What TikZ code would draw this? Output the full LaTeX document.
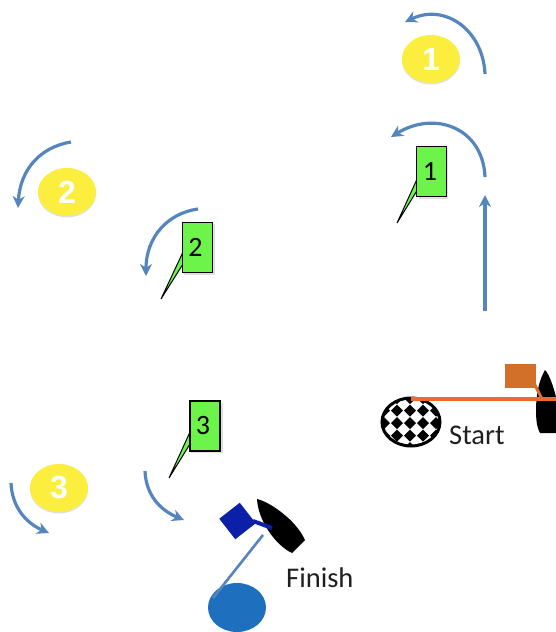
\documentclass[tikz,border=0pt]{standalone}
\usepackage{fontspec}
\setmainfont{Carlito}
\newfontfamily\numfont[Scale=1]{Liberation Sans}
\usetikzlibrary{arrows.meta,shapes.geometric}
\definecolor{arrowblue}{HTML}{5585BD}
\definecolor{markyellow}{HTML}{FBEE3E}
\definecolor{flaggreen}{HTML}{6CF44A}
\definecolor{startorange}{HTML}{D2702A}
\definecolor{startline}{HTML}{F0682E}
\definecolor{finishblue}{HTML}{1F6FBF}
\definecolor{flagblue}{HTML}{0A20A8}
\tikzset{
  course/.style={arrowblue,line width=3.2pt,-{Stealth[length=12pt,width=12pt]}},
  yellowmark/.style={ellipse,fill=markyellow,minimum width=58pt,minimum height=48pt,inner sep=0pt,text=white,font=\numfont\bfseries\fontsize{32}{32}\selectfont},
  greenflag/.style={rectangle,draw=black,line width=1.2pt,fill=flaggreen,minimum width=30pt,minimum height=50pt,inner sep=0pt,font=\fontsize{28}{28}\selectfont},
  tail/.style={fill=flaggreen,draw=black,line width=1pt},
  caption/.style={inner sep=0pt,anchor=base west,text=black!88,font=\fontsize{28.5}{29}\selectfont},
  shade/.style={fill=black!12,draw=none}
}
\begin{document}
\begin{tikzpicture}[x=1pt,y=-1pt]
\useasboundingbox (0,0) rectangle (556,632);
\clip (0,0) rectangle (556,632);
% soft shadows
\fill[shade] (431,60.5) ellipse [x radius=29pt,y radius=24pt];
\fill[shade] (67,193.5) ellipse [x radius=29pt,y radius=24pt];
\fill[shade] (59,489.5) ellipse [x radius=29pt,y radius=24pt];
% yellow marks
\node[yellowmark] (y1) at (431,59) {1};
\node[yellowmark] (y2) at (67,192) {2};
\node[yellowmark] (y3) at (59,488) {3};
% course arrows
\coordinate (a1s) at (485,74); \coordinate (a1e) at (405,22);
\draw[course] (a1s) .. controls (483,30) and (445,3) .. (a1e);
\coordinate (b1s) at (485,177); \coordinate (b1e) at (391,137);
\draw[course] (b1s) .. controls (483,128) and (435,110) .. (b1e);
\coordinate (up0) at (485,311); \coordinate (up1) at (485,195);
\draw[course] (up0) -- (up1);
\coordinate (a2s) at (71,142); \coordinate (a2e) at (18,208);
\draw[course] (a2s) .. controls (40,147) and (20,170) .. (a2e);
\coordinate (b2s) at (198,209); \coordinate (b2e) at (146,276);
\draw[course] (b2s) .. controls (168,213) and (146,237) .. (b2e);
\coordinate (b3s) at (145,471); \coordinate (b3e) at (184,520);
\draw[course] (b3s) .. controls (146,495) and (160,510) .. (b3e);
\coordinate (a3s) at (11,483); \coordinate (a3e) at (49,533);
\draw[course] (a3s) .. controls (12,507) and (26,523) .. (a3e);
% green flags
\coordinate (t1) at (397,223);
\draw[tail] (t1) -- (418,177) -- (418,189) -- cycle;
\fill[shade] (418.5,148) rectangle (447.5,198.5);
\node[greenflag] (g1) at (431.5,171.5) {\kern-3pt\raisebox{-2pt}{1}};
\coordinate (t2) at (161,299);
\draw[tail] (t2) -- (183,252) -- (183,264) -- cycle;
\fill[shade] (184,224) rectangle (215,274.5);
\node[greenflag] (g2) at (197.5,247.5) {\kern-4pt\raisebox{-2pt}{2}};
\coordinate (t3) at (169,478);
\draw[tail] (t3) -- (190,432) -- (190,444) -- cycle;
\fill[shade] (191,403) rectangle (222.5,452.5);
\node[greenflag] (g3) at (205,426) {\kern-4pt\raisebox{1pt}{3}};
% start
\begin{scope}
\clip (411,422) ellipse [x radius=29pt,y radius=24pt];
\foreach \r in {-2,...,2}{\foreach \c in {-3,...,3}{
  \fill[black] ({410+\c*13},{423+\r*12.5-6}) -- ++(6,6) -- ++(-6,6) -- ++(-6,-6) -- cycle;
}}
\end{scope}
\node[ellipse,draw=black,line width=3pt,minimum width=58pt,minimum height=48pt,inner sep=0pt] (chk) at (411,422) {};
\node[rectangle,fill=startorange,minimum width=31pt,minimum height=24pt,inner sep=0pt] (oflag) at (520.5,375.5) {};
\fill[black] (545,370) .. controls (539,380) and (536,395) .. (536,410) .. controls (536,420) and (537,428) .. (540,433) -- (556,433) -- (556,397) .. controls (553,385) and (549,374) .. (545,370) -- cycle;
\coordinate (oline) at (542,399);
\draw[startorange,line width=3pt] (535,385) -- (oline);
\coordinate (sline) at (556,399);
\draw[startline,line width=3.4pt] (chk.north |- sline) -- (sline);
\node[caption] (st) at (449,444) {Start};
% finish
\fill[black] (257,499) .. controls (270,502) and (296,520) .. (305,540) -- (292,553) .. controls (275,545) and (258,520) .. (257,499) -- cycle;
\node[draw=none,fill=flagblue,minimum width=26pt,minimum height=26pt,inner sep=0pt,rotate=-52] (bflag) at (237.5,521) {};
\coordinate (bpole) at (272,528);
\draw[flagblue,line width=4pt] (253,521) -- (bpole);
\node[ellipse,fill=finishblue,minimum width=58pt,minimum height=49pt,inner sep=0pt] (fin) at (237,607.5) {};
\coordinate (fline) at (263,535);
\draw[arrowblue,line width=2.6pt] (fline) -- (213,598);
\node[caption] (ft) at (286,587) {Finish};
\end{tikzpicture}
\end{document}
